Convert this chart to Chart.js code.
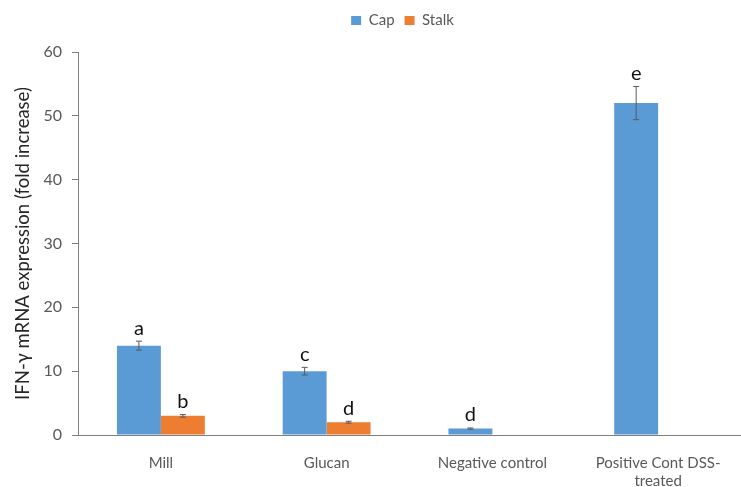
<!DOCTYPE html>
<html>
<head>
<meta charset="utf-8">
<script src="https://cdn.jsdelivr.net/npm/chart.js@4/dist/chart.umd.min.js"></script>
<style>
  html, body { margin: 0; padding: 0; background: #ffffff; }
  #wrap { width: 741px; height: 487px; }
</style>
</head>
<body>
<div id="wrap"><canvas id="chart" width="741" height="487"></canvas></div>
<script>
// Treatment groups along the x axis
const categories = ['Mill', 'Glucan', 'Negative control', ['Positive Cont DSS-', 'treated']];

// Mean fold increase of IFN-γ mRNA per group
const capValues = [14, 10, 1, 52];
const stalkValues = [3, 2, null, null];

// Standard error for each bar
const capErrors = [0.7, 0.6, 0.1, 2.6];
const stalkErrors = [0.2, 0.15, null, null];

// Significance letters printed above each bar
const capLetters = ['a', 'c', 'd', 'e'];
const stalkLetters = ['b', 'd', null, null];

// Y axis ticks
const yTicks = [0, 10, 20, 30, 40, 50, 60];

const FONT = 'Lato, "Open Sans", sans-serif';

// Extra room below the legend, and a small rightward nudge of the legend row
const legendTweak = {
  id: 'legendTweak',
  beforeLayout(chart) {
    const lg = chart.legend;
    if (lg && !lg._gapPatched) {
      const fit = lg.fit;
      lg.fit = function () { fit.call(this); this.height += 14; };
      lg._gapPatched = true;
    }
  },
  afterLayout(chart) {
    const lg = chart.legend;
    if (lg) { lg.left += 32; lg.right += 32; }
  }
};

// Draws error whiskers and letter labels using the bar elements' own positions
const errorBarPlugin = {
  id: 'errorBars',
  afterDatasetsDraw(chart) {
    const ctx = chart.ctx;
    const yScale = chart.scales.y;
    const sets = [
      { errs: capErrors, letters: capLetters, vals: capValues },
      { errs: stalkErrors, letters: stalkLetters, vals: stalkValues }
    ];
    sets.forEach((s, di) => {
      const meta = chart.getDatasetMeta(di);
      meta.data.forEach((bar, i) => {
        const v = s.vals[i];
        if (v === null || v === undefined) return;
        const e = s.errs[i] || 0;
        const x = bar.x;
        const yTop = yScale.getPixelForValue(v + e);
        const yBot = yScale.getPixelForValue(v - e);
        ctx.save();
        ctx.strokeStyle = '#5a5a5a';
        ctx.lineWidth = 1;
        ctx.beginPath();
        ctx.moveTo(x, yTop); ctx.lineTo(x, yBot);
        ctx.moveTo(x - 3, yTop); ctx.lineTo(x + 3, yTop);
        ctx.moveTo(x - 3, yBot); ctx.lineTo(x + 3, yBot);
        ctx.stroke();
        const letter = s.letters[i];
        if (letter) {
          ctx.fillStyle = '#111111';
          ctx.font = '20px ' + FONT;
          ctx.textAlign = 'center';
          ctx.textBaseline = 'bottom';
          ctx.fillText(letter, x, yTop - 3);
        }
        ctx.restore();
      });
    });
  }
};

new Chart(document.getElementById('chart'), {
  type: 'bar',
  data: {
    labels: categories,
    datasets: [
      {
        label: 'Cap',
        data: capValues,
        backgroundColor: '#5B9BD5',
        borderWidth: 0
      },
      {
        label: 'Stalk',
        data: stalkValues,
        backgroundColor: '#ED7D31',
        borderWidth: 0
      }
    ]
  },
  options: {
    responsive: false,
    animation: false,
    layout: { padding: { top: 3, right: 0, left: 0, bottom: 0 } },
    datasets: {
      bar: { categoryPercentage: 0.53, barPercentage: 1.0 }
    },
    plugins: {
      tooltip: { enabled: false },
      legend: {
        position: 'top',
        align: 'center',
        labels: {
          boxWidth: 10,
          boxHeight: 9,
          padding: 10,
          color: '#595959',
          font: { family: FONT, size: 15 }
        }
      }
    },
    scales: {
      x: {
        grid: { display: false },
        border: { display: true, color: '#7f7f7f', width: 1 },
        ticks: {
          color: '#595959',
          font: { family: FONT, size: 15 },
          padding: 11,
          maxRotation: 0,
          autoSkip: false
        },
        afterFit(scale) { scale.height = 52; }
      },
      y: {
        min: 0,
        max: 60,
        afterBuildTicks(scale) { scale.ticks = yTicks.map(v => ({ value: v })); },
        grid: {
          display: true,
          drawOnChartArea: false,
          drawTicks: true,
          tickLength: 6,
          color: '#7f7f7f'
        },
        border: { display: true, color: '#7f7f7f', width: 1 },
        ticks: {
          color: '#595959',
          font: { family: FONT, size: 16 },
          padding: 10
        },
        title: {
          display: true,
          text: 'IFN-γ mRNA expression (fold increase)',
          color: '#262626',
          font: { family: FONT, size: 18.5 },
          padding: { top: 12, bottom: 4 }
        },
        afterFit(scale) { scale.width = 78; }
      }
    }
  },
  plugins: [legendTweak, errorBarPlugin]
});
</script>
</body>
</html>
